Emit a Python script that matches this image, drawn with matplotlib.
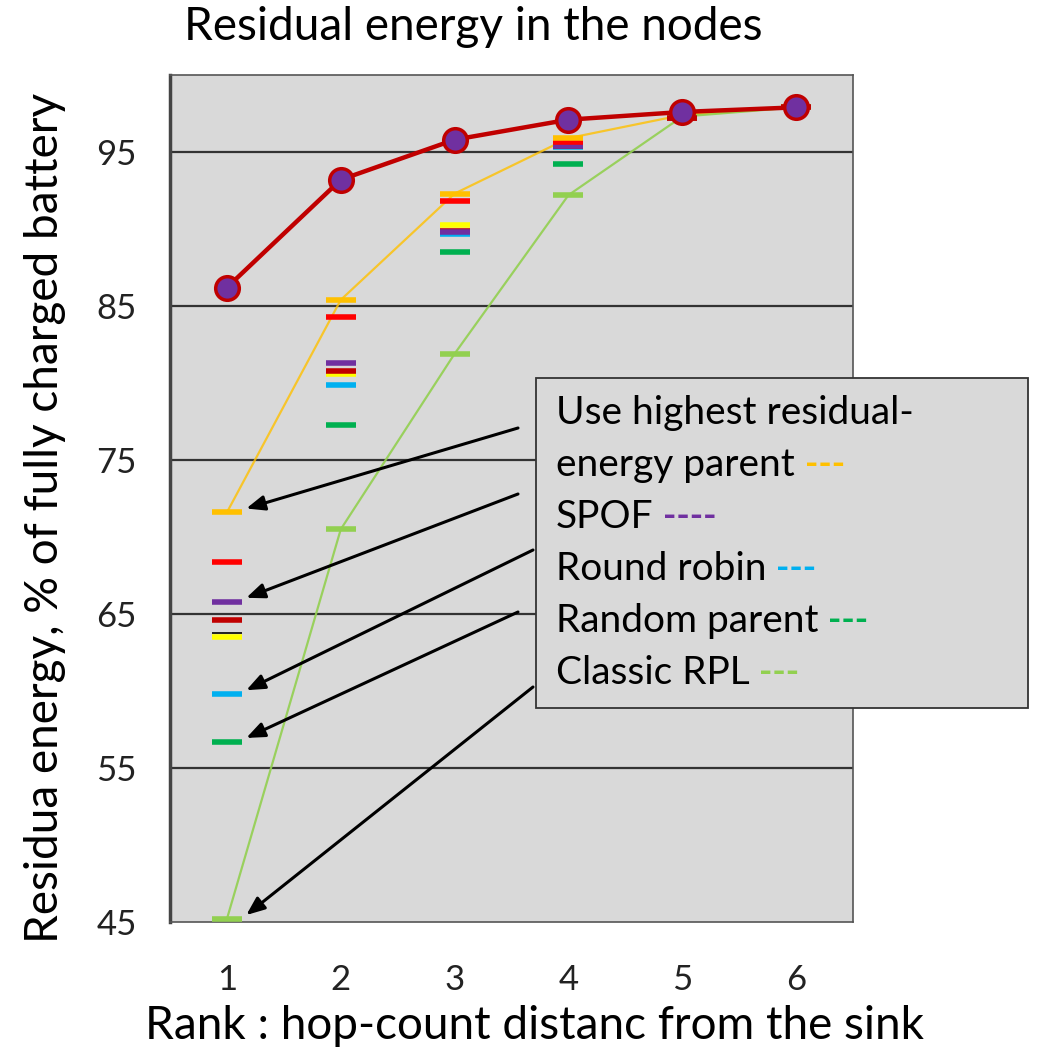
import numpy as np
import matplotlib
matplotlib.use('Agg')
import matplotlib.pyplot as plt
from matplotlib.patches import Rectangle
from matplotlib.text import Annotation

# rank (hop count from the sink)
ranks = [1, 2, 3, 4, 5, 6]

# residual energy, % of fully charged battery
best_line = [86.2, 93.2, 95.8, 97.1, 97.6, 97.9]          # dark red line, purple circles
highest_residual = [71.6, 85.4, 92.3, 95.9, 97.4, 97.9]   # orange
classic_rpl = [45.2, 70.5, 81.9, 92.2, 97.3, 97.9]        # light green
red_marks = [68.4, 84.3, 91.8, 95.65, 97.5, 97.9]
spof = [65.8, 81.3, 89.8, 95.4, 97.4, 97.9]
darkred_marks = [64.6, 80.8, 89.9, 95.4, 97.2, 97.9]
yellow_marks = [63.5, 80.6, 90.25, 95.5, 97.4, 97.9]
black_marks = [63.75]
round_robin = [59.8, 79.85, 89.7, 95.3, 97.4, 97.9]
random_parent = [56.7, 77.25, 88.5, 94.2, 97.3, 97.9]

legend_lines = ['Use highest residual-', 'energy parent', 'SPOF', 'Round robin',
                'Random parent', 'Classic RPL']
legend_dashes = ['', '---', '----', '---', '---', '---']
legend_colors = ['k', '#ffc000', '#7030a0', '#00b0f0', '#00b050', '#92d050']
arrow_targets = [highest_residual[0], spof[0], round_robin[0], random_parent[0], classic_rpl[0]]
arrow_tails = [(518, 624), (518, 558), (533, 502), (518, 440), (533, 365)]  # figure pixels

font = ['Lato', 'DejaVu Sans']
plt.rcParams['font.family'] = font

fig = plt.figure(figsize=(10.38, 10.52), dpi=100)
ax = fig.add_axes([0.1638, 0.1236, 0.658, 0.8051])
ax.set_facecolor('#d9d9d9')

# lines
ax.plot(ranks, highest_residual, color='#ffc000', lw=1.6, alpha=0.8, zorder=2)
ax.plot(ranks, classic_rpl, color='#92d050', lw=1.6, alpha=0.9, zorder=2)

# dash markers
dash = dict(marker='_', ms=22, mew=4, ls='none', zorder=3)
ax.plot(ranks, random_parent, color='#00b050', **dash)
ax.plot(ranks, round_robin, color='#00b0f0', **dash)
ax.plot(ranks, yellow_marks, color='#ffff00', **dash)
ax.plot(ranks[:1], black_marks, color='black', marker='_', ms=22, mew=1.2, ls='none', zorder=3)
ax.plot(ranks, darkred_marks, color='#c00000', **dash)
ax.plot(ranks, spof, color='#7030a0', **dash)
ax.plot(ranks, red_marks, color='#ff0000', **dash)
ax.plot(ranks, highest_residual, color='#ffc000', **dash)
ax.plot(ranks, classic_rpl, color='#92d050', **dash)

ax.plot(ranks, best_line, color='#c00000', lw=3.2, marker='o', ms=17,
        markerfacecolor='#7030a0', markeredgecolor='#c00000', mew=2.5, zorder=5)
ax.plot(ranks[4:], darkred_marks[4:], color='#c00000', **dash)

ax.set_xlim(0.5, 6.5)
ax.set_ylim(45, 100)
ax.set_xticks(ranks)
ax.set_yticks([45, 55, 65, 75, 85, 95])
for y in [55, 65, 75, 85, 95]:
    ax.axhline(y, color='#333333', lw=1.6, zorder=1)
ax.tick_params(length=0, labelsize=25, colors='#222222')
ax.tick_params(axis='x', pad=30)
ax.tick_params(axis='y', pad=24)
for side in ['top', 'right', 'bottom']:
    ax.spines[side].set_color('#555555')
    ax.spines[side].set_linewidth(1.2)
ax.spines['left'].set_color('#444444')
ax.spines['left'].set_linewidth(2.5)

# arrows from legend to the rank-1 markers
for val, tail in zip(arrow_targets, arrow_tails):
    ax.annotate('', xy=(ranks[0] + 0.17, val + 0.25), xycoords='data',
                xytext=tail, textcoords='figure pixels', annotation_clip=False,
                arrowprops=dict(arrowstyle='-|>,head_length=1.1,head_width=0.45',
                                color='black', lw=2.2, shrinkA=0, shrinkB=0))

# legend box
fig.patches.append(Rectangle((0.5164, 0.327), 0.474, 0.3137, transform=fig.transFigure,
                             facecolor='#d9d9d9', edgecolor='#333333', lw=1.3, zorder=5))
y0 = 1 - 413 / 1052
step = 52 / 1052
for i, (txt, dsh, col) in enumerate(zip(legend_lines, legend_dashes, legend_colors)):
    t = fig.text(0.5357, y0 - i * step, txt, fontsize=28, va='center', ha='left', zorder=6)
    if dsh:
        a = Annotation(dsh, xy=(1, 0.5), xycoords=t, xytext=(7, 0),
                       textcoords='offset points', fontsize=26, fontweight='bold',
                       color=col, va='center', ha='left', annotation_clip=False)
        a.set_zorder(7)
        fig.add_artist(a)

fig.text(0.456, 0.974, 'Residual energy in the nodes', fontsize=33,
         ha='center', va='center')
fig.text(0.515, 0.025, 'Rank : hop-count distanc from the sink', fontsize=33,
         ha='center', va='center')
fig.text(0.043, 0.508, 'Residua energy, % of fully charged battery', fontsize=33,
         ha='center', va='center', rotation=90)

plt.savefig('out.png', dpi=100)
